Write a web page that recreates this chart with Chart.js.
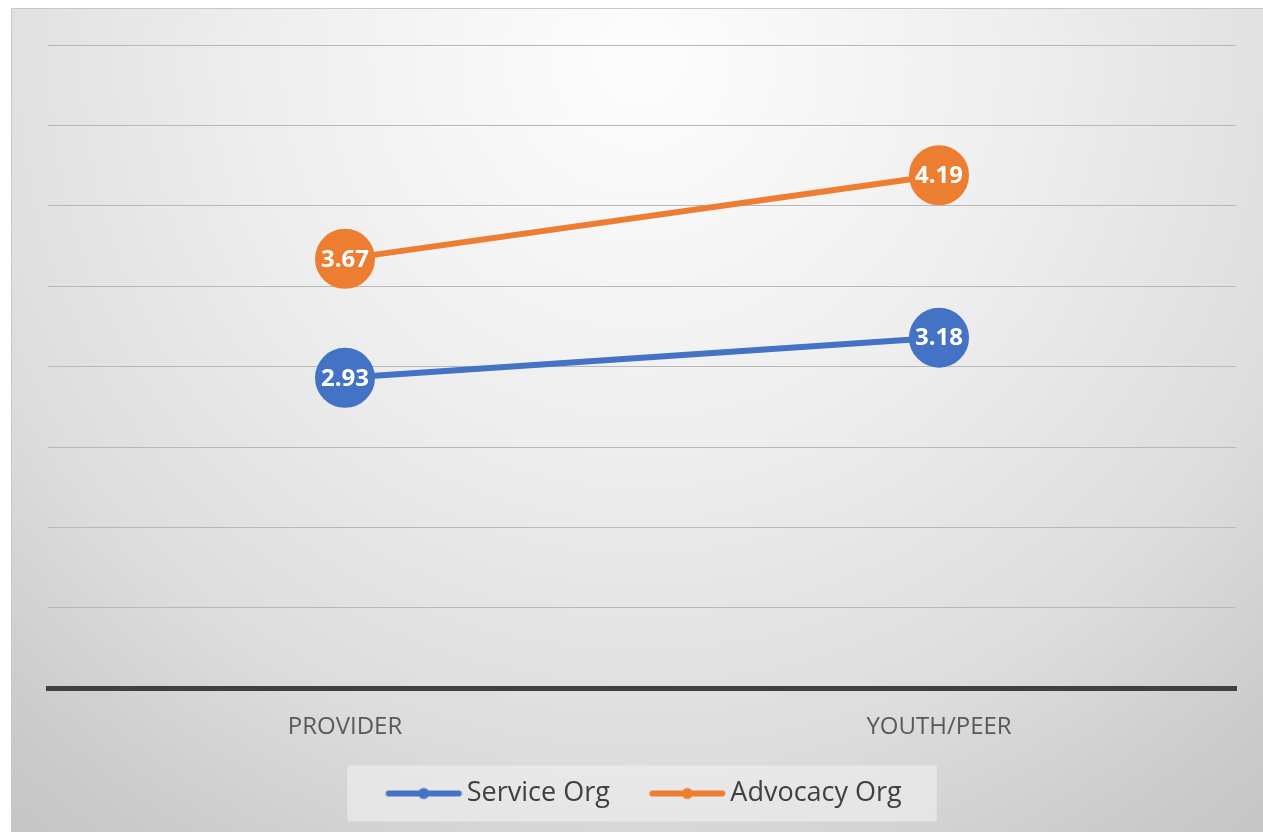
<!DOCTYPE html>
<html>
<head>
<meta charset="utf-8">
<script src="https://cdn.jsdelivr.net/npm/chart.js@4"></script>
<style>
  html, body { margin: 0; padding: 0; background: #fff; overflow: hidden; }
  #wrap { width: 1263px; height: 832px; }
  canvas { display: block; }
</style>
</head>
<body>
<div id="wrap"><canvas id="chart"></canvas></div>
<script>
const categories = ["PROVIDER", "YOUTH/PEER"];
const serviceOrg = [2.93, 3.18];
const advocacyOrg = [3.67, 4.19];
const seriesNames = ["Service Org", "Advocacy Org"];
const seriesColors = ["#4472C4", "#ED7D31"];

const FONT = "'Open Sans', 'Noto Sans', sans-serif";

// legend symbol: thick line with a dot; the canvas is wider than the legend
// box so the line ends right before the label text
function legendSymbol(color) {
  const c = document.createElement("canvas");
  c.width = 116;
  c.height = 14;
  const g = c.getContext("2d");
  g.strokeStyle = color;
  g.lineWidth = 6;
  g.lineCap = "round";
  g.beginPath();
  g.moveTo(40.5, 7);
  g.lineTo(110.5, 7);
  g.stroke();
  g.fillStyle = color;
  g.beginPath();
  g.arc(75.5, 7, 5.5, 0, Math.PI * 2);
  g.fill();
  return c;
}

const background = {
  id: "background",
  beforeDraw(chart) {
    const ctx = chart.ctx;
    const w = chart.width, h = chart.height;
    ctx.save();
    ctx.fillStyle = "#ffffff";
    ctx.fillRect(0, 0, w, h);
    const grad = ctx.createRadialGradient(640, 60, 0, 640, 60, 980);
    grad.addColorStop(0, "#fdfdfd");
    grad.addColorStop(0.39, "#eeeeee");
    grad.addColorStop(0.71, "#dddddd");
    grad.addColorStop(0.92, "#cbcbcb");
    grad.addColorStop(1, "#c6c6c6");
    ctx.fillStyle = grad;
    ctx.fillRect(11, 8, w - 11, h - 8);
    ctx.strokeStyle = "#c8c8c8";
    ctx.lineWidth = 1;
    ctx.beginPath();
    ctx.moveTo(11.5, h);
    ctx.lineTo(11.5, 8.5);
    ctx.lineTo(w, 8.5);
    ctx.stroke();

    // lighter box behind the legend
    const boxes = chart.legend.legendHitBoxes;
    if (boxes && boxes.length) {
      let x0 = Infinity, x1 = -Infinity, yc = 0;
      boxes.forEach(b => {
        x0 = Math.min(x0, b.left);
        x1 = Math.max(x1, b.left + b.width);
        yc += b.top + b.height / 2;
      });
      yc /= boxes.length;
      ctx.fillStyle = "rgba(240,240,240,0.6)";
      ctx.fillRect(x0 - 12, yc - 28, x1 - x0 + 47, 56);
    }
    ctx.restore();
  }
};

const pointLabels = {
  id: "pointLabels",
  afterDatasetsDraw(chart) {
    const ctx = chart.ctx;
    ctx.save();
    ctx.fillStyle = "#ffffff";
    ctx.font = "bold 24px " + FONT;
    ctx.textAlign = "center";
    ctx.textBaseline = "middle";
    chart.data.datasets.forEach((ds, i) => {
      chart.getDatasetMeta(i).data.forEach((pt, j) => {
        ctx.fillText(ds.data[j].toFixed(2), pt.x, pt.y + 1);
      });
    });
    ctx.restore();
  }
};

new Chart(document.getElementById("chart"), {
  type: "line",
  data: {
    labels: categories,
    datasets: [
      {
        label: seriesNames[0],
        data: serviceOrg,
        borderColor: seriesColors[0],
        backgroundColor: seriesColors[0],
        borderWidth: 6,
        pointRadius: 29,
        pointHoverRadius: 29,
        pointBorderWidth: 2,
        pointBorderColor: seriesColors[0],
        pointBackgroundColor: seriesColors[0],
      },
      {
        label: seriesNames[1],
        data: advocacyOrg,
        borderColor: seriesColors[1],
        backgroundColor: seriesColors[1],
        borderWidth: 6,
        pointRadius: 29,
        pointHoverRadius: 29,
        pointBorderWidth: 2,
        pointBorderColor: seriesColors[1],
        pointBackgroundColor: seriesColors[1],
      },
    ],
  },
  options: {
    responsive: true,
    maintainAspectRatio: false,
    animation: false,
    layout: { autoPadding: false, padding: { left: 25, right: 27, top: 45, bottom: 15 } },
    scales: {
      x: {
        offset: true,
        grid: { display: false, drawTicks: false },
        border: { display: true, color: "#404040", width: 5 },
        ticks: { color: "#595959", font: { family: FONT, size: 24 }, padding: 25 },
      },
      y: {
        min: 1,
        max: 5,
        ticks: { display: false, stepSize: 0.5 },
        grid: { color: "#b8b8b8", lineWidth: 1, drawTicks: false },
        border: { display: false },
        afterFit(scale) { scale.width = 23; },
      },
    },
    plugins: {
      tooltip: { enabled: false },
      legend: {
        position: "bottom",
        labels: {
          usePointStyle: true,
          pointStyleWidth: 94,
          color: "#404040",
          font: { family: FONT, size: 27 },
          padding: 13,
          generateLabels(chart) {
            const items = Chart.defaults.plugins.legend.labels.generateLabels(chart);
            items.forEach((it, i) => { it.pointStyle = legendSymbol(seriesColors[i]); });
            return items;
          },
        },
      },
    },
  },
  plugins: [background, pointLabels],
});
</script>
</body>
</html>
